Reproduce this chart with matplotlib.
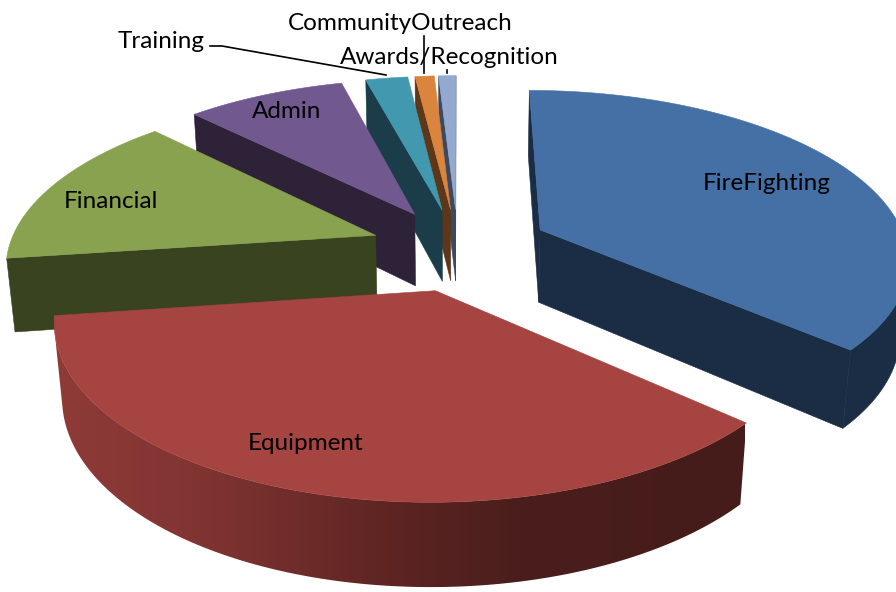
import numpy as np
import matplotlib
matplotlib.use('Agg')
import matplotlib.pyplot as plt
from matplotlib.colors import LinearSegmentedColormap
from matplotlib.patches import Polygon

# shares in percent, clockwise from 12 o'clock
categories = ['FireFighting', 'Equipment', 'Financial', 'Admin', 'Training',
              'CommunityOutreach', 'Awards/Recognition']
values = [36.6, 36.2, 14.8, 8.3, 2.2, 1.0, 0.9]
top_colors = ['#4470a5', '#a64441', '#89a24f', '#71588f', '#4198af', '#db843d', '#93a9cf']
side_colors = ['#1b2d44', '#8f3b38', '#394320', '#2e2238', '#1b3d49', '#5e3618', '#3b4a60']

# equipment wall shading, left to right across the image
wall_x = [52, 200, 300, 400, 520, 745]
wall_colors = ['#8f3b38', '#803432', '#6e2c2a', '#5c2422', '#4a1e1c', '#451c1a']

plt.rcParams['font.family'] = ['Lato', 'DejaVu Sans']

# camera
cx, cy = 458, 248
elev = np.radians(27)
D = 5.56
F = 367 * D
explode = 0.24
height = 0.228

# small per slice fixes, in pixels and radius
nudges = [(3, -2), (4, 3), (0, 0), (-1, 0), (0, 0), (0, 0), (0, 0)]
radii = [1, 0.985, 1, 1, 1, 1, 1]


def project(x, y, z, nudge=(0, 0)):
    d = D - (y * np.sin(elev) + z * np.cos(elev))
    yc = y * np.cos(elev) - z * np.sin(elev)
    return cx + nudge[0] + F * x / d, cy + nudge[1] - F * yc / d


def area(pts):
    p = np.array(pts)
    return 0.5 * np.sum(p[:, 0] * np.roll(p[:, 1], -1) - np.roll(p[:, 0], -1) * p[:, 1])


def face(ax, pts, color, z):
    ax.add_patch(Polygon(pts, closed=True, facecolor=color, edgecolor=color, lw=0.4, zorder=z))


fig = plt.figure(figsize=(8.96, 5.92), dpi=100)
ax = fig.add_axes([0, 0, 1, 1])

ends = np.cumsum(values) / np.sum(values) * 2 * np.pi
starts = np.r_[0, ends[:-1]]
# far slices first, equipment last
order = [6, 5, 4, 3, 2, 0, 1]
for rank, i in enumerate(order):
    a0, a1 = starts[i], ends[i]
    mid = (a0 + a1) / 2
    ox, oz = explode * np.sin(mid), -explode * np.cos(mid)
    angs = np.linspace(a0, a1, max(int((a1 - a0) * 60), 4))
    xs = ox + radii[i] * np.sin(angs)
    zs = oz - radii[i] * np.cos(angs)
    base = rank * 10
    nudge = nudges[i]
    tops = [project(x, 0, z, nudge) for x, z in zip(xs, zs)]
    bots = [project(x, -height, z, nudge) for x, z in zip(xs, zs)]
    apex_t = project(ox, 0, oz, nudge)
    apex_b = project(ox, -height, oz, nudge)

    # radial faces, only the ones turned to the viewer
    f1 = [apex_t, tops[0], bots[0], apex_b]
    f2 = [tops[-1], apex_t, apex_b, bots[-1]]
    for f in (f1, f2):
        if area(f) < 0:
            face(ax, f, side_colors[i], base + 1)

    # outer wall, the part turned to the viewer
    vis = [k for k in range(len(angs) - 1)
           if area([tops[k], tops[k + 1], bots[k + 1], bots[k]]) < 0]
    if vis:
        k0, k1 = vis[0], vis[-1] + 1
        wall = tops[k0:k1 + 1] + bots[k0:k1 + 1][::-1]
        if i == 1:
            pos = (np.array(wall_x) - wall_x[0]) / (wall_x[-1] - wall_x[0])
            cmap = LinearSegmentedColormap.from_list('wall', list(zip(pos, wall_colors)))
            img = ax.imshow(np.linspace(0, 1, 400)[None, :], cmap=cmap, aspect='auto',
                            extent=(wall_x[0], wall_x[-1], 592, 0), zorder=base + 2)
            patch = Polygon(wall, closed=True, transform=ax.transData, facecolor='none',
                            edgecolor='none')
            ax.add_patch(patch)
            img.set_clip_path(patch)
        else:
            face(ax, wall, side_colors[i], base + 2)

    face(ax, [apex_t] + tops, top_colors[i], base + 3)

ax.set_xlim(0, 896)
ax.set_ylim(592, 0)
ax.axis('off')

# labels
label_xy = [(767, 184), (306, 444), (111, 202), (287, 112), (161, 42), (400, 24), (449, 58)]
for name, (lx, ly) in zip(categories, label_xy):
    ax.text(lx, ly, name, ha='center', va='center', fontsize=17.5, color='black', zorder=200)

# leader lines
ax.plot([210, 222, 386], [46, 46, 75], color='black', lw=1.2, zorder=150)
ax.plot([424, 424], [36, 73], color='black', lw=1.2, zorder=150)
ax.plot([447, 447], [70, 73], color='black', lw=1.2, zorder=150)

fig.savefig('out.png', dpi=100)
